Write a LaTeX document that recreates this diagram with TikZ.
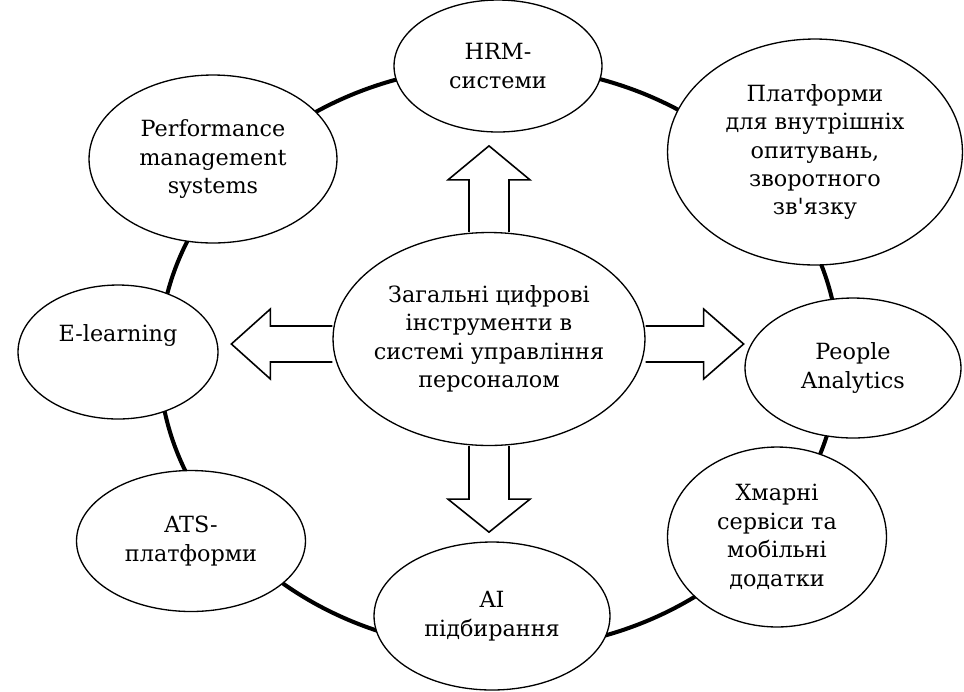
\documentclass[tikz,border=0pt]{standalone}
\usepackage{fontspec}
\setmainfont{DejaVu Serif}
\usetikzlibrary{shapes.geometric}

\tikzset{
  tool/.style={ellipse, draw, line width=0.75pt, fill=white, align=center,
    inner sep=-4pt, font=\fontsize{12.7}{16.2}\selectfont},
  ring/.style={line width=2.3pt},
  blockarrow/.style={draw, line width=0.9pt, line join=miter}
}

\begin{document}
\begin{tikzpicture}[x=0.02cm, y=-0.02cm]
        \useasboundingbox (0,0) rectangle (964,691);

        \draw[ring] (499,358) ellipse [x radius=340, y radius=292];

        \node[tool, minimum width=6.24cm, minimum height=4.26cm] (centre) at (489,339)
            {Загальні цифрові\\інструменти в\\системі управління\\персоналом};
        \node[tool, minimum width=4.16cm, minimum height=2.64cm] (hrm) at (498,66)
            {HRM-\\системи};
        \node[tool, minimum width=4.96cm, minimum height=3.36cm] (perf) at (213,159)
            {Performance\\management\\systems};
        \node[tool, minimum width=5.9cm, minimum height=4.52cm] (survey) at (815,152)
            {Платформи\\для внутрішніх\\опитувань,\\зворотного\\зв\textquotesingle язку};
        \node[tool, minimum width=4.0cm, minimum height=2.68cm,
            text height=9pt, text depth=21pt] (elearn) at (118,352)
            {E-learning};
        \node[tool, minimum width=4.32cm, minimum height=2.8cm] (people) at (853,368)
            {People\\Analytics};
        \node[tool, minimum width=4.38cm, minimum height=3.6cm] (cloud) at (777,537)
            {Хмарні\\сервіси та\\мобільні\\додатки};
        \node[tool, minimum width=4.58cm, minimum height=2.82cm] (ats) at (191,541)
            {ATS-\\платформи};
        \node[tool, minimum width=4.72cm, minimum height=2.96cm] (ai) at (492,616)
            {AI\\підбирання};

        \draw[blockarrow] ([shift={(-20,0)}]centre.north) -- ++(0,-52) -- ++(-21,0)
            -- ++(41,-34) -- ++(41,34) -- ++(-21,0) -- ++(0,52);
        \draw[blockarrow] ([shift={(-20,0)}]centre.south) -- ++(0,53) -- ++(-21,0)
            -- ++(41,33) -- ++(41,-33) -- ++(-21,0) -- ++(0,-53);
        \draw[blockarrow] ([shift={(0,-13)}]centre.west) -- ++(-62,0) -- ++(0,-17)
            -- ++(-39,35) -- ++(39,35) -- ++(0,-17) -- ++(62,0);
        \draw[blockarrow] ([shift={(0,-13)}]centre.east) -- ++(58,0) -- ++(0,-17)
            -- ++(40,35) -- ++(-40,35) -- ++(0,-17) -- ++(-58,0);

    \end{tikzpicture}
\end{document}
